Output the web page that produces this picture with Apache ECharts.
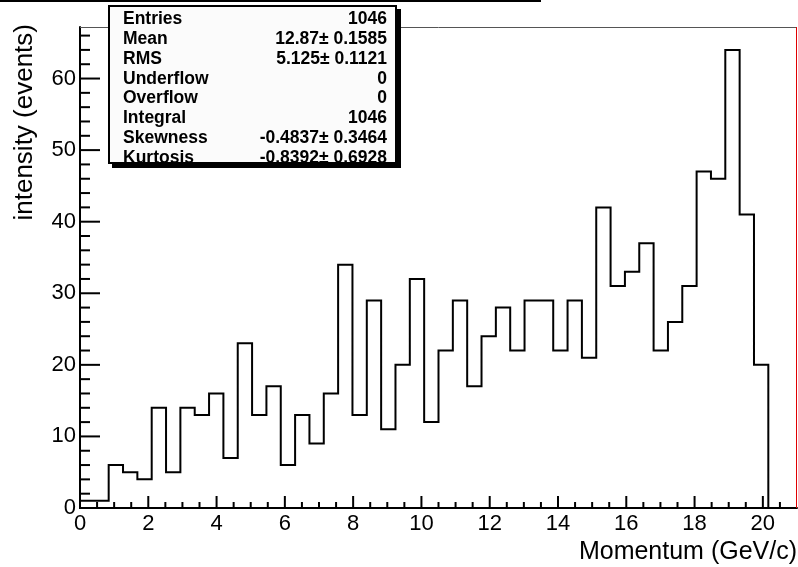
<!DOCTYPE html>
<html>
<head>
<meta charset="utf-8">
<script src="https://cdn.jsdelivr.net/npm/echarts@6/dist/echarts.min.js"></script>
<style>
  html, body { margin: 0; padding: 0; background: #ffffff; }
  #chart { width: 798px; height: 567px; }
</style>
</head>
<body>
<div id="chart"></div>
<script>
// Momentum histogram: 48 bins of 0.42 GeV/c starting at 0
const binStart = 0;
const binWidth = 0.42;
const counts = [1, 1, 6, 5, 4, 14, 5, 14, 13, 16, 7, 23, 13, 17, 6, 13, 9, 16, 34, 13,
                29, 11, 20, 32, 12, 22, 29, 17, 24, 28, 22, 29, 29, 22, 29, 21, 42, 31, 33, 37,
                22, 26, 31, 47, 46, 64, 41, 20];

// Axis ticks
const xMajorTicks = [0, 2, 4, 6, 8, 10, 12, 14, 16, 18, 20];
const xMinorTicks = [0.5, 1, 1.5, 2.5, 3, 3.5, 4.5, 5, 5.5, 6.5, 7, 7.5, 8.5, 9, 9.5,
                     10.5, 11, 11.5, 12.5, 13, 13.5, 14.5, 15, 15.5, 16.5, 17, 17.5,
                     18.5, 19, 19.5, 20.5];
const yMajorTicks = [0, 10, 20, 30, 40, 50, 60];
const yMinorTicks = [2, 4, 6, 8, 12, 14, 16, 18, 22, 24, 26, 28, 32, 34, 36, 38,
                     42, 44, 46, 48, 52, 54, 56, 58, 62, 64, 66];

// Statistics box
const statNames = ['Entries', 'Mean', 'RMS', 'Underflow', 'Overflow', 'Integral', 'Skewness', 'Kurtosis'];
const statValues = ['1046', '12.87\u00b1 0.1585', '5.125\u00b1 0.1121', '0', '0', '1046',
                    '-0.4837\u00b1 0.3464', '-0.8392\u00b1 0.6928'];

const xTitle = 'Momentum (GeV/c)';
const yTitle = 'intensity (events)';

// Build the step outline of the histogram from the bin contents
const r = v => Math.round(v * 1000) / 1000;
const outline = [[binStart, 0]];
counts.forEach((c, i) => {
  const lo = r(binStart + i * binWidth);
  const hi = r(binStart + (i + 1) * binWidth);
  outline.push([lo, c], [hi, c]);
});
outline.push([r(binStart + counts.length * binWidth), 0]);

// Tick marks: [axis, value, length in px]
const tickData = []
  .concat(xMajorTicks.map(v => ['x', v, 12]))
  .concat(xMinorTicks.map(v => ['x', v, 6]))
  .concat(yMajorTicks.map(v => ['y', v, 20]))
  .concat(yMinorTicks.map(v => ['y', v, 10]));

const FONT = 'Liberation Sans';
const X_MIN = 0, X_MAX = 21, Y_MIN = 0, Y_MAX = 67.2;

const chart = echarts.init(document.getElementById('chart'), null, { renderer: 'canvas' });

const statGraphics = [];
const boxX = 108, boxY = 5, boxW = 289, boxH = 159;
statGraphics.push({ type: 'rect', shape: { x: boxX + 4, y: boxY + 4, width: boxW, height: boxH },
                    style: { fill: '#000' }, z: 100 });
statGraphics.push({ type: 'rect', shape: { x: boxX, y: boxY, width: boxW, height: boxH },
                    style: { fill: '#fbfbfb' }, z: 101 });
statNames.forEach((n, i) => {
  const cy = 19 + i * 19.9;
  statGraphics.push({ type: 'text', x: 123, y: cy, z: 102,
    style: { text: n, font: 'bold 17.5px "' + FONT + '"', fill: '#000', textAlign: 'left', textVerticalAlign: 'middle' } });
  statGraphics.push({ type: 'text', x: 387, y: cy, z: 102,
    style: { text: statValues[i], font: 'bold 17.5px "' + FONT + '"', fill: '#000', textAlign: 'right', textVerticalAlign: 'middle' } });
});
statGraphics.push({ type: 'rect', shape: { x: boxX + 1, y: boxY + 1, width: boxW - 2, height: boxH - 2 },
                    style: { fill: 'none', stroke: '#000', lineWidth: 2 }, z: 103 });

const option = {
  backgroundColor: '#ffffff',
  animation: false,
  textStyle: { fontFamily: FONT },
  grid: { left: 80, top: 27, right: 1, bottom: 59, containLabel: false },
  xAxis: {
    type: 'value', min: X_MIN, max: X_MAX, interval: 1, position: 'bottom',
    axisLine: { show: true, onZero: false, lineStyle: { color: '#000', width: 2 } },
    axisTick: { show: false },
    axisLabel: { show: true, customValues: xMajorTicks, margin: 5, fontSize: 22, color: '#000', fontFamily: FONT },
    splitLine: { show: false }
  },
  yAxis: {
    type: 'value', min: Y_MIN, max: Y_MAX, interval: 10, position: 'left',
    axisLine: { show: true, onZero: false, lineStyle: { color: '#000', width: 2 } },
    axisTick: { show: false },
    axisLabel: { show: true, customValues: yMajorTicks, margin: 4, fontSize: 22, color: '#000', fontFamily: FONT },
    splitLine: { show: false }
  },
  series: [
    {
      type: 'line',
      data: outline,
      showSymbol: false, symbol: 'none',
      lineStyle: { color: '#000', width: 2, join: 'miter', cap: 'square' },
      silent: true, z: 5
    },
    {
      // inward-pointing axis ticks placed through the axis scales
      type: 'custom',
      data: tickData,
      silent: true, clip: false, z: 6,
      renderItem: function (params, api) {
        const axis = api.value(0);
        const v = api.value(1);
        const len = api.value(2);
        let p, x2, y2;
        if (axis === 'x') {
          p = api.coord([v, Y_MIN]);
          x2 = p[0]; y2 = p[1] - len;
        } else {
          p = api.coord([X_MIN, v]);
          x2 = p[0] + len; y2 = p[1];
        }
        return { type: 'line', shape: { x1: p[0], y1: p[1], x2: x2, y2: y2 },
                 style: { stroke: '#000', lineWidth: 2 } };
      },
      dimensions: [{ name: 'axis', type: 'ordinal' }, 'value', 'len'],
      encode: { x: 1, y: 2 }
    }
  ],
  graphic: [
    // title bar edge along the top of the canvas
    { type: 'line', shape: { x1: 0, y1: 1, x2: 541, y2: 1 }, style: { stroke: '#000', lineWidth: 2 }, z: 50 },
    // frame: top edge and red right edge
    { type: 'line', shape: { x1: 80, y1: 27.5, x2: 797, y2: 27.5 }, style: { stroke: '#555', lineWidth: 1 }, z: 40 },
    { type: 'line', shape: { x1: 796.5, y1: 27, x2: 796.5, y2: 508 }, style: { stroke: '#e00000', lineWidth: 1 }, z: 40 },
    // axis titles
    { type: 'text', x: 797, y: 552, z: 60,
      style: { text: xTitle, font: '25px "' + FONT + '"', fill: '#000', textAlign: 'right', textVerticalAlign: 'middle' } },
    { type: 'text', x: 25, y: 24, rotation: Math.PI / 2, z: 60,
      style: { text: yTitle, font: '26px "' + FONT + '"', fill: '#000', textAlign: 'right', textVerticalAlign: 'middle' } }
  ].concat(statGraphics)
};

chart.setOption(option);
</script>
</body>
</html>
